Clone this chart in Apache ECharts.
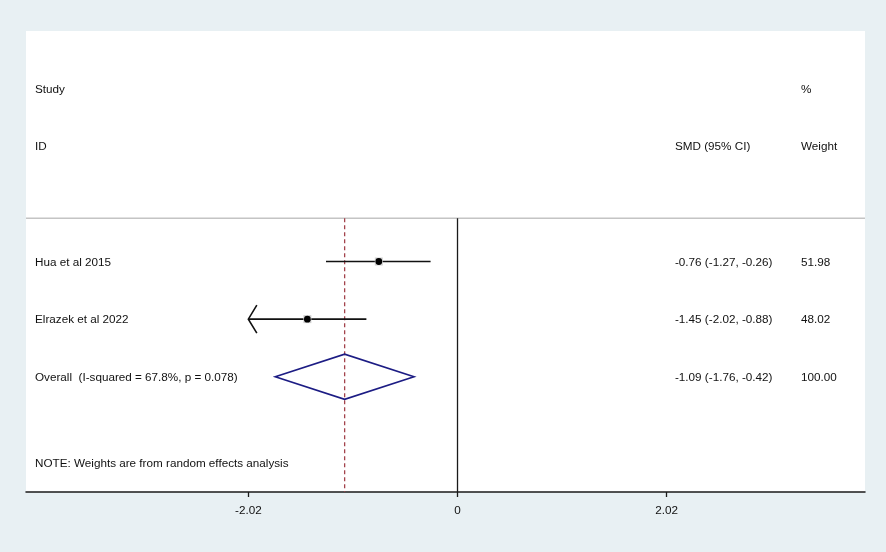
<!DOCTYPE html>
<html>
<head>
<meta charset="utf-8">
<script src="https://cdn.jsdelivr.net/npm/echarts@6/dist/echarts.min.js"></script>
<style>
html,body{margin:0;padding:0;background:#e8f0f3;}
#chart{width:886px;height:552px;}
</style>
</head>
<body>
<div id="chart"></div>
<script>
// ---- data ----
const studies = ['Hua et al 2015', 'Elrazek et al 2022'];
const smd = [-0.76, -1.45];
const ciLower = [-1.27, -2.02];
const ciUpper = [-0.26, -0.88];
const weights = [51.98, 48.02];
const overallLabel = 'Overall  (I-squared = 67.8%, p = 0.078)';
const overallSmd = -1.09;
const overallLower = -1.76;
const overallUpper = -0.42;
const overallWeight = 100.00;
const tickValues = [-2.02, 0, 2.02];
const tickLabels = ['-2.02', '0', '2.02'];
const headerLeft = ['Study', 'ID'];
const headerSmd = 'SMD (95% CI)';
const headerWeight = ['%', 'Weight'];
const note = 'NOTE: Weights are from random effects analysis';

// ---- layout ----
const X_MIN = -4.167, X_MAX = 3.935;
const Y_MIN = -3, Y_MAX = 5;
const COL_LEFT = -4.08, COL_SMD = 2.10, COL_W = 3.317;
const SEP_ROW = 0.25, NOTE_ROW = 4.5;
const FONT = '"Liberation Sans", Arial, sans-serif';
const FS = 11.7;
const TXT = '#111';

const fmt = v => v.toFixed(2);
const studyRows = studies.map((s, i) => i + 1);
const overallRow = studies.length + 1;

// text items: [x, row, text]
const texts = [];
texts.push([COL_LEFT, -2, headerLeft[0]]);
texts.push([COL_W, -2, headerWeight[0]]);
texts.push([COL_LEFT, -1, headerLeft[1]]);
texts.push([COL_SMD, -1, headerSmd]);
texts.push([COL_W, -1, headerWeight[1]]);
studies.forEach((s, i) => {
  texts.push([COL_LEFT, studyRows[i], s]);
  texts.push([COL_SMD, studyRows[i], fmt(smd[i]) + ' (' + fmt(ciLower[i]) + ', ' + fmt(ciUpper[i]) + ')']);
  texts.push([COL_W, studyRows[i], fmt(weights[i])]);
});
texts.push([COL_LEFT, overallRow, overallLabel]);
texts.push([COL_SMD, overallRow, fmt(overallSmd) + ' (' + fmt(overallLower) + ', ' + fmt(overallUpper) + ')']);
texts.push([COL_W, overallRow, fmt(overallWeight)]);
texts.push([COL_LEFT, NOTE_ROW, note]);

const studyData = studies.map((s, i) => [smd[i], studyRows[i], ciLower[i], ciUpper[i], weights[i]]);
const clipMin = tickValues[0], clipMax = tickValues[tickValues.length - 1];

const chart = echarts.init(document.getElementById('chart'));
chart.setOption({
  backgroundColor: '#e8f0f3',
  animation: false,
  grid: {left: 26, right: 21, top: 31, bottom: 60, show: true, backgroundColor: '#ffffff', borderWidth: 0},
  xAxis: {
    type: 'value', min: X_MIN, max: X_MAX,
    axisLine: {show: true, onZero: false, lineStyle: {color: '#1a1a1a', width: 1.5}},
    axisTick: {show: true, customValues: tickValues, length: 5, lineStyle: {color: '#1a1a1a', width: 1.3}},
    axisLabel: {show: true, customValues: tickValues, margin: 13, color: TXT, fontFamily: FONT, fontSize: FS,
      formatter: v => { const i = tickValues.findIndex(t => Math.abs(t - v) < 1e-6); return i >= 0 ? tickLabels[i] : ''; }},
    splitLine: {show: false}
  },
  yAxis: {type: 'value', min: Y_MIN, max: Y_MAX, inverse: true, show: false, splitLine: {show: false}},
  series: [
    { // separator + reference lines
      type: 'custom', silent: true, z: 1,
      data: [[0]],
      renderItem: (params, api) => {
        const a = api.coord([X_MIN, SEP_ROW]), b = api.coord([X_MAX, SEP_ROW]);
        const z1 = api.coord([0, SEP_ROW]), z2 = api.coord([0, Y_MAX]);
        const o1 = api.coord([overallSmd, SEP_ROW]), o2 = api.coord([overallSmd, Y_MAX]);
        return {type: 'group', children: [
          {type: 'line', shape: {x1: a[0], y1: a[1], x2: b[0], y2: b[1]}, style: {stroke: '#c4c4c4', lineWidth: 1.6}},
          {type: 'line', shape: {x1: z1[0], y1: z1[1], x2: z2[0], y2: z2[1]}, style: {stroke: '#1a1a1a', lineWidth: 1.3}},
          {type: 'line', shape: {x1: o1[0], y1: o1[1], x2: o2[0], y2: o2[1]}, style: {stroke: '#a3434c', lineWidth: 1.3, lineDash: [4, 3]}}
        ]};
      }
    },
    { // study CIs and points
      type: 'custom', silent: true, z: 3,
      data: studyData,
      renderItem: (params, api) => {
        const est = api.value(0), row = api.value(1), lo = api.value(2), hi = api.value(3);
        const loC = Math.max(lo, clipMin), hiC = Math.min(hi, clipMax);
        const p1 = api.coord([loC, row]), p2 = api.coord([hiC, row]), pe = api.coord([est, row]);
        const ch = [
          {type: 'line', shape: {x1: p1[0], y1: p1[1], x2: p2[0], y2: p2[1]}, style: {stroke: '#111', lineWidth: 1.6}}
        ];
        if (lo <= clipMin) {
          ch.push({type: 'polyline', shape: {points: [[p1[0] + 8.5, p1[1] - 14], [p1[0], p1[1]], [p1[0] + 8.5, p1[1] + 14]]}, style: {stroke: '#111', lineWidth: 1.6, fill: null}});
        }
        if (hi >= clipMax) {
          ch.push({type: 'polyline', shape: {points: [[p2[0] - 8.5, p2[1] - 14], [p2[0], p2[1]], [p2[0] - 8.5, p2[1] + 14]]}, style: {stroke: '#111', lineWidth: 1.6, fill: null}});
        }
        ch.push({type: 'rect', shape: {x: pe[0] - 4, y: pe[1] - 4, width: 8, height: 8}, style: {fill: '#d0d0d0'}});
        ch.push({type: 'circle', shape: {cx: pe[0], cy: pe[1], r: 3.4}, style: {fill: '#000'}});
        return {type: 'group', children: ch};
      }
    },
    { // overall diamond
      type: 'custom', silent: true, z: 3,
      data: [[overallSmd, overallRow, overallLower, overallUpper]],
      renderItem: (params, api) => {
        const c = api.coord([api.value(0), api.value(1)]);
        const l = api.coord([api.value(2), api.value(1)]);
        const r = api.coord([api.value(3), api.value(1)]);
        const h = 22.6;
        return {type: 'polygon', shape: {points: [[l[0], c[1]], [c[0], c[1] - h], [r[0], c[1]], [c[0], c[1] + h]]},
          style: {fill: null, stroke: '#1c1c84', lineWidth: 1.6}};
      }
    },
    { // text
      type: 'custom', silent: true, z: 4,
      data: texts,
      renderItem: (params, api) => {
        const p = api.coord([api.value(0), api.value(1)]);
        return {type: 'text', x: p[0], y: p[1] + 1, style: {text: texts[params.dataIndex][2], fill: TXT,
          font: FS + 'px ' + FONT, textAlign: 'left', textVerticalAlign: 'middle'}};
      }
    }
  ]
});
</script>
</body>
</html>
